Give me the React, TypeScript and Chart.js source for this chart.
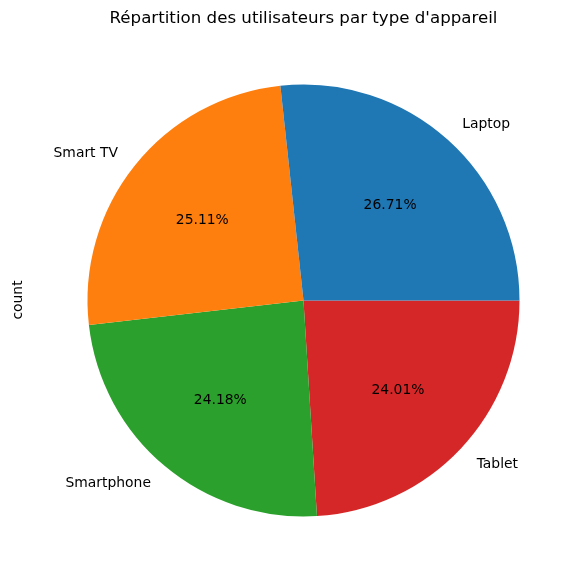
import React, { useEffect, useRef } from "react";
import { Chart, registerables } from "chart.js";

Chart.register(...registerables);

const TITLE = "Répartition des utilisateurs par type d'appareil";
const Y_LABEL = "count";
const categories = ["Laptop", "Smart TV", "Smartphone", "Tablet"];
const shares = [26.71, 25.11, 24.18, 24.01];
const colors = ["#1f77b4", "#ff7f0e", "#2ca02c", "#d62728"];

const W = 583;
const H = 580;
const FONT = "'DejaVu Sans', 'Liberation Sans', sans-serif";

export default function App() {
  const ref = useRef<HTMLCanvasElement | null>(null);

  useEffect(() => {
    if (!ref.current) return;
    // matplotlib draws counter-clockwise from 3 o'clock; Chart.js draws clockwise,
    // so feed the data reversed and start at 3 o'clock.
    const labs = [...categories].reverse();
    const vals = [...shares].reverse();
    const cols = [...colors].reverse();
    const total = shares.reduce((a, b) => a + b, 0);

    const labelPlugin = {
      id: "mplLabels",
      afterDraw(chart: any) {
        const ctx = chart.ctx as CanvasRenderingContext2D;
        ctx.save();
        ctx.fillStyle = "#000";
        // title
        ctx.font = `16.67px ${FONT}`;
        ctx.textAlign = "center";
        ctx.textBaseline = "alphabetic";
        ctx.fillText(TITLE, 303.5, 23);
        // y label
        ctx.save();
        ctx.translate(22, 300);
        ctx.rotate(-Math.PI / 2);
        ctx.font = `13.9px ${FONT}`;
        ctx.textAlign = "center";
        ctx.textBaseline = "alphabetic";
        ctx.fillText(Y_LABEL, 0, 0);
        ctx.restore();

        const meta = chart.getDatasetMeta(0);
        meta.data.forEach((arc: any, i: number) => {
          const { x, y, startAngle, endAngle, outerRadius } = arc.getProps(
            ["x", "y", "startAngle", "endAngle", "outerRadius"],
            true
          );
          const mid = (startAngle + endAngle) / 2;
          const cx = Math.cos(mid);
          const cy = Math.sin(mid);
          ctx.font = `13.9px ${FONT}`;
          ctx.textBaseline = "middle";
          // category label at 1.1 r
          ctx.textAlign = cx > 0 ? "left" : "right";
          ctx.fillText(labs[i], x + 1.1 * outerRadius * cx, y + 1.1 * outerRadius * cy + 1);
          // percentage at 0.6 r
          ctx.textAlign = "center";
          const pct = ((vals[i] / total) * 100).toFixed(2) + "%";
          ctx.fillText(pct, x + 0.6 * outerRadius * cx, y + 0.6 * outerRadius * cy + 1);
        });
        ctx.restore();
      },
    };

    const chart = new Chart(ref.current, {
      type: "pie",
      data: {
        labels: labs,
        datasets: [
          {
            data: vals,
            backgroundColor: cols,
            borderWidth: 0,
            hoverOffset: 0,
            offset: 0,
          },
        ],
      },
      options: {
        responsive: false,
        animation: false,
        devicePixelRatio: 1,
        rotation: 90,
        layout: { padding: { left: 87.5, right: 63.5, top: 84.5, bottom: 63.5 } },
        plugins: {
          legend: { display: false },
          title: { display: false },
          tooltip: { enabled: false },
        },
        events: [],
      },
      plugins: [labelPlugin],
    });
    return () => chart.destroy();
  }, []);

  return (
    <div style={{ position: "absolute", left: 0, top: 0, width: W, height: H, background: "#fff" }}>
      <canvas ref={ref} width={W} height={H} style={{ display: "block", width: W, height: H }} />
    </div>
  );
}
